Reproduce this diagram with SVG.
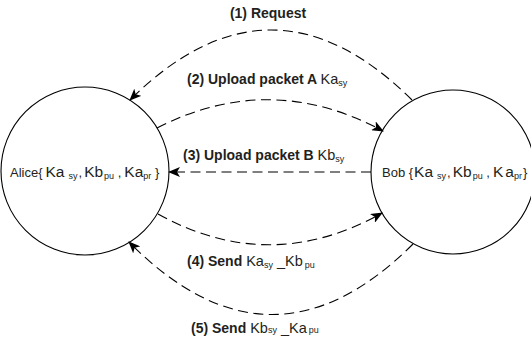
<svg xmlns="http://www.w3.org/2000/svg" width="531" height="341" viewBox="0 0 531 341">
<style>
.node{fill:#fff;stroke:#000;stroke-width:1.1}
.conn{fill:none;stroke:#000;stroke-width:1.1;stroke-dasharray:10 5.5;marker-end:url(#ah)}
text{font-family:"Liberation Sans",Arial,sans-serif;fill:#231f20}
.lbl{font-size:14px;font-weight:bold}
.m{font-weight:normal;font-size:14.5px}
.sub{font-size:9px;font-weight:normal}
.nt{font-size:13px}
.big{font-size:15.5px}
</style>
<defs>
<marker id="ah" viewBox="0 0 12 10" refX="11" refY="5" markerWidth="12" markerHeight="10" markerUnits="userSpaceOnUse" orient="auto">
<path d="M0,0 L12,5 L0,10 L3,5 Z" fill="#000"/>
</marker>
</defs>
<g id="alice">
<circle class="node" cx="85" cy="171" r="84"/>
<text class="nt" x="10" y="177">Alice{<tspan class="big" dx="3">Ka</tspan><tspan class="sub" dx="4" dy="2">sy</tspan><tspan dy="-2" dx="1">,</tspan><tspan class="big" dx="2">Kb</tspan><tspan class="sub" dx="1" dy="2">pu</tspan><tspan dy="-2"> ,</tspan><tspan class="big" dx="3">Ka</tspan><tspan class="sub" dy="2">pr</tspan><tspan dy="-2">  }</tspan></text>
</g>
<g id="bob">
<circle class="node" cx="453" cy="172" r="82"/>
<text class="nt" x="382" y="177">Bob {<tspan class="big" dx="1">Ka</tspan><tspan class="sub" dx="4" dy="2">sy</tspan><tspan dy="-2" dx="1">,</tspan><tspan class="big" dx="2">Kb</tspan><tspan class="sub" dx="1" dy="2">pu</tspan><tspan dy="-2"> ,</tspan><tspan class="big" dx="3">K</tspan><tspan class="big" dx="2">a</tspan><tspan class="sub" dy="2">pr</tspan><tspan dy="-2" dx="1">}</tspan></text>
</g>
<g id="connectors">
<path class="conn" d="M412,100 Q271,-40 130,100"/>
<path class="conn" d="M157,128 Q270,70 383,131"/>
<path class="conn" d="M371,172 L169,172"/>
<path class="conn" d="M158,214 Q270,276 382,213"/>
<path class="conn" d="M413,244 Q271,386 129,242"/>
</g>
<g id="labels">
<text class="lbl" x="268" y="18" text-anchor="middle">(1) Request</text>
<text class="lbl" x="187" y="84">(2) Upload packet A <tspan class="m">Ka</tspan><tspan class="sub" dy="2">sy</tspan></text>
<text class="lbl" x="183" y="160">(3) Upload packet B <tspan class="m">Kb</tspan><tspan class="sub" dy="2">sy</tspan></text>
<text class="lbl" x="187" y="266">(4) Send <tspan class="m">Ka</tspan><tspan class="sub" dy="2">sy</tspan><tspan class="m" dy="-2"> _Kb</tspan><tspan class="sub" dx="2" dy="2">pu</tspan></text>
<text class="lbl" x="191" y="333">(5) Send <tspan class="m">Kb</tspan><tspan class="sub">sy</tspan><tspan class="m"> _Ka</tspan><tspan class="sub" dx="2">pu</tspan></text>
</g>
</svg>
